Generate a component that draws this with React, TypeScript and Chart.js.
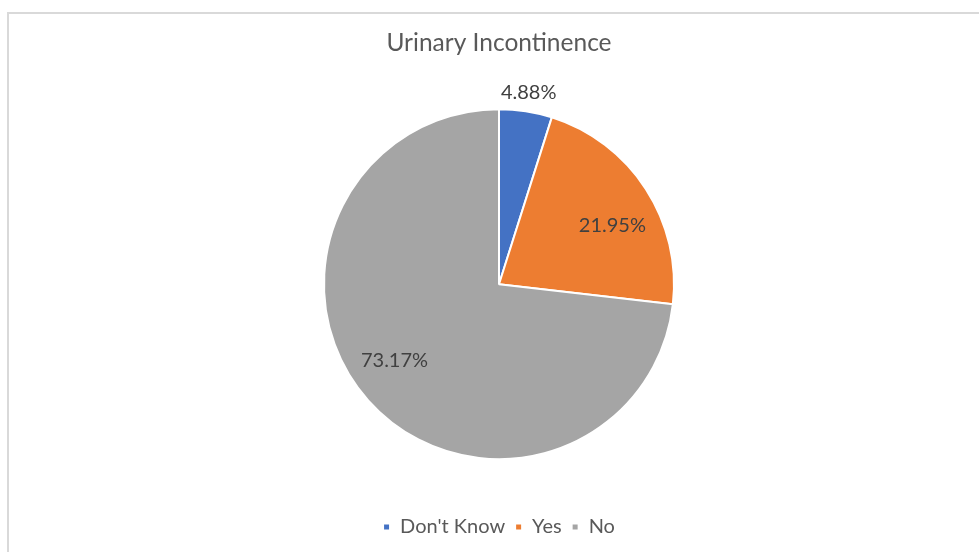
import React, { useEffect, useRef } from "react";
import { Chart, registerables } from "chart.js";

Chart.register(...registerables);

const TITLE = "Urinary Incontinence";
const CATEGORIES = ["Don't Know", "Yes", "No"];
const VALUES = [4.88, 21.95, 73.17];
const COLORS = ["#4472C4", "#ED7D31", "#A5A5A5"];

// label placement style: fraction of radius and angle nudge (degrees)
const LABEL_RADIUS = [1.11, 0.73, 0.74];
const LABEL_ANGLE_NUDGE = [0, 5.5, 5.5];

const FONT = "Lato, 'Open Sans', sans-serif";

const labelPlugin = {
  id: "sliceLabels",
  afterDatasetsDraw(chart: any) {
    const meta = chart.getDatasetMeta(0);
    const ctx = chart.ctx;
    ctx.save();
    ctx.font = `20px ${FONT}`;
    ctx.fillStyle = "#404040";
    ctx.textAlign = "center";
    ctx.textBaseline = "middle";
    meta.data.forEach((arc: any, i: number) => {
      const { x, y, startAngle, endAngle, outerRadius } = arc.getProps(
        ["x", "y", "startAngle", "endAngle", "outerRadius"],
        true
      );
      const mid = (startAngle + endAngle) / 2 + (LABEL_ANGLE_NUDGE[i] * Math.PI) / 180;
      const r = outerRadius * LABEL_RADIUS[i];
      const v = chart.data.datasets[0].data[i] as number;
      ctx.fillText(v.toFixed(2) + "%", x + Math.cos(mid) * r, y + Math.sin(mid) * r);
    });
    ctx.restore();
  },
};

export default function App() {
  const ref = useRef<HTMLCanvasElement>(null);
  useEffect(() => {
    if (!ref.current) return;
    const chart = new Chart(ref.current, {
      type: "pie",
      data: {
        labels: CATEGORIES,
        datasets: [
          {
            data: VALUES,
            backgroundColor: COLORS,
            borderColor: "#ffffff",
            borderWidth: 2,
          },
        ],
      },
      options: {
        responsive: false,
        animation: false,
        radius: 175,
        layout: { padding: { left: 19, right: 0, top: 0, bottom: 5 } },
        plugins: {
          title: {
            display: true,
            text: TITLE,
            color: "#595959",
            font: { family: FONT, size: 24.5, weight: "normal" },
            padding: { top: 28, bottom: 4 },
          },
          legend: {
            display: true,
            position: "bottom",
            labels: {
              color: "#595959",
              font: { family: FONT, size: 20 },
              boxWidth: 7,
              boxHeight: 7,
              padding: 10,
            },
          },
          tooltip: { enabled: false },
        },
      } as any,
      plugins: [labelPlugin],
    });
    return () => chart.destroy();
  }, []);

  return (
    <div
      style={{
        position: "fixed",
        left: 0,
        top: 0,
        width: 979,
        height: 552,
        overflow: "hidden",
        background: "#ffffff",
      }}
    >
      <div
        style={{
          position: "absolute",
          left: 7,
          top: 12,
          width: 1200,
          height: 1200,
          borderLeft: "2px solid #d9d9d9",
          borderTop: "2px solid #d9d9d9",
        }}
      />
      <canvas
        ref={ref}
        width={979}
        height={552}
        style={{ position: "absolute", left: 0, top: 0 }}
      />
    </div>
  );
}
